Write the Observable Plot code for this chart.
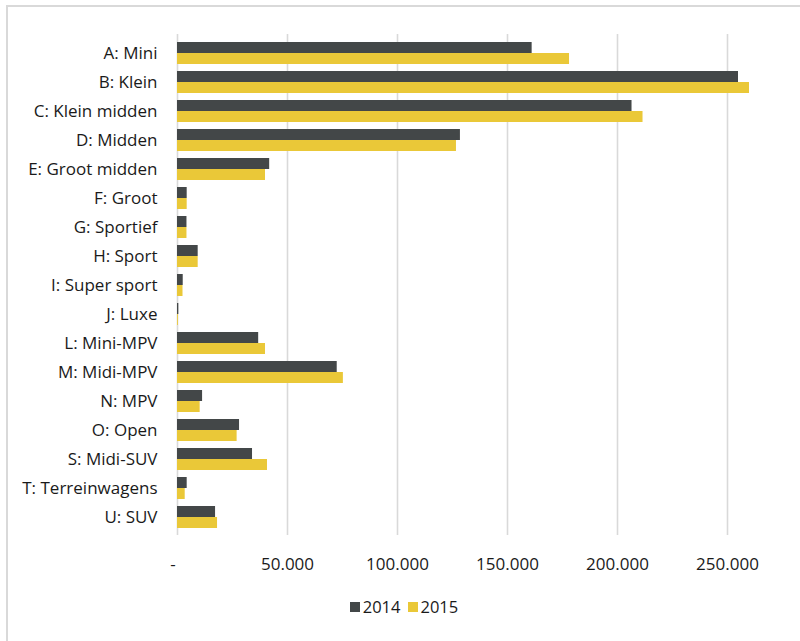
<!DOCTYPE html>
<html>
<head>
<meta charset="utf-8">
<script src="https://cdn.jsdelivr.net/npm/d3@7"></script>
<script src="https://cdn.jsdelivr.net/npm/@observablehq/plot@0.6"></script>
<style>
  html, body { margin: 0; padding: 0; background: #fff; overflow: hidden; }
  body { width: 800px; height: 641px; position: relative; font-family: "Open Sans", Lato, sans-serif; }
  #frame { position: absolute; left: 6px; top: 5px; width: 820px; height: 660px; border: 2px solid #d9d9d9; box-sizing: border-box; }
  #chart { position: absolute; left: 0; top: 0; }
  #legend { position: absolute; left: 0; top: 595px; width: 800px; display: flex; justify-content: center; gap: 7px; font-size: 16.5px; color: #1a1a1a; padding-left: 8px; box-sizing: border-box; }
  #legend span { display: inline-flex; align-items: center; }
  #legend i { display: inline-block; width: 10px; height: 10px; margin-right: 3px; }
</style>
</head>
<body>
<div id="frame"></div>
<div id="chart"></div>
<div id="legend"></div>
<script>
// Nieuwe registraties per segment
const segments = [
  "A: Mini", "B: Klein", "C: Klein midden", "D: Midden", "E: Groot midden",
  "F: Groot", "G: Sportief", "H: Sport", "I: Super sport", "J: Luxe",
  "L: Mini-MPV", "M: Midi-MPV", "N: MPV", "O: Open", "S: Midi-SUV",
  "T: Terreinwagens", "U: SUV"
];
const values2014 = [161200, 255000, 206600, 128600, 41900, 4400, 4300, 9400, 2600, 600,
  36900, 72600, 11400, 28200, 34100, 4400, 17300];
const values2015 = [178200, 260000, 211600, 126800, 40000, 4400, 4300, 9400, 2500, 400,
  40000, 75400, 10300, 27100, 40900, 3500, 18200];
const years = ["2014", "2015"];
const colors = ["#434748", "#eac838"];
const xTicks = [0, 50000, 100000, 150000, 200000, 250000];

const rows2014 = segments.map((s, i) => ({segment: s, value: values2014[i]}));
const rows2015 = segments.map((s, i) => ({segment: s, value: values2015[i]}));

// accounting-style labels: dash for zero, dots as thousands separator
const fmt = d => d === 0 ? "-\u00a0\u00a0" : d3.format(",")(d).replace(/,/g, ".");
const half = 11;

const chart = Plot.plot({
  width: 800,
  height: 585,
  marginLeft: 177,
  marginRight: 73,
  marginTop: 30,
  marginBottom: 46,
  style: {fontFamily: "'Open Sans', Lato, sans-serif", fontSize: "17px", color: "#1a1a1a", background: "transparent"},
  x: {domain: [0, 250000], ticks: xTicks, tickFormat: fmt, tickSize: 0, tickPadding: 18, label: null},
  y: {domain: segments, padding: 0.254, tickSize: 0, tickPadding: 20, label: null},
  marks: [
    Plot.ruleX(xTicks, {stroke: "#d9d9d9", strokeWidth: 1.6, strokeOpacity: 1, insetTop: 4, insetBottom: 4}),
    Plot.barX(rows2014, {y: "segment", x: "value", fill: colors[0], insetBottom: half}),
    Plot.barX(rows2015, {y: "segment", x: "value", fill: colors[1], insetTop: half})
  ]
});
document.getElementById("chart").append(chart);

const legend = document.getElementById("legend");
years.forEach((y, i) => {
  const s = document.createElement("span");
  s.innerHTML = `<i style="background:${colors[i]}"></i>${y}`;
  legend.append(s);
});
</script>
</body>
</html>
